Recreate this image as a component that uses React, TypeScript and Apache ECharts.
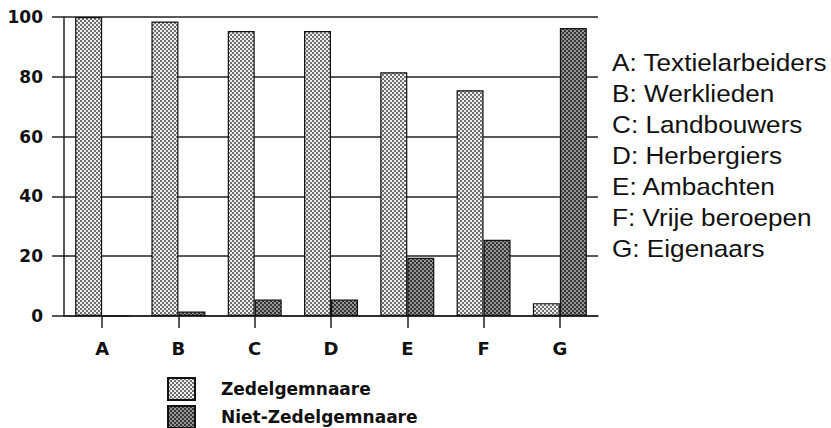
import React, { useEffect, useRef } from "react";
import * as echarts from "echarts";

const categories = ["A", "B", "C", "D", "E", "F", "G"];
const occupations = [
  "Textielarbeiders",
  "Werklieden",
  "Landbouwers",
  "Herbergiers",
  "Ambachten",
  "Vrije beroepen",
  "Eigenaars",
];
const zedelgem = [100, 98.5, 95.3, 95.3, 81.5, 75.5, 4.3];
const nietZedelgem = [0, 1.5, 5.5, 5.5, 19.5, 25.5, 96.3];
const yTicks = [0, 20, 40, 60, 80, 100];
const seriesNames = ["Zedelgemnaare", "Niet-Zedelgemnaare"];

function makePattern(bg: string, dot: string) {
  const c = document.createElement("canvas");
  c.width = 4;
  c.height = 4;
  const ctx = c.getContext("2d")!;
  ctx.fillStyle = bg;
  ctx.fillRect(0, 0, 4, 4);
  ctx.fillStyle = dot;
  ctx.fillRect(0, 0, 2, 2);
  ctx.fillRect(2, 2, 2, 2);
  return c;
}

export default function App() {
  const ref = useRef<HTMLDivElement>(null);
  useEffect(() => {
    if (!ref.current) return;
    const chart = echarts.init(ref.current, undefined, { renderer: "svg" });
    const light = makePattern("#eeeeee", "#707070");
    const dark = makePattern("#363636", "#959595");
    const lineColor = "#222";
    const sideTexts = categories.map((c, i) => ({
      type: "text",
      x: 612,
      y: 62 + i * 31,
      scaleX: 1.09,
      style: {
        text: `${c}: ${occupations[i]}`,
        font: "24px 'Liberation Sans', Arial, sans-serif",
        fill: "#111",
        verticalAlign: "middle",
        align: "left",
      },
    }));
    chart.setOption({
      animation: false,
      backgroundColor: "#fff",
      grid: { left: 64, right: 233, top: 17, bottom: 112 },
      legend: {
        orient: "vertical",
        left: 167,
        top: 377,
        height: 120,
        padding: 0,
        itemGap: 4,
        itemWidth: 27,
        itemHeight: 22,
        icon: "rect",
        data: seriesNames,
        textStyle: {
          fontFamily: "'DejaVu Sans', sans-serif",
          fontWeight: "bold",
          fontSize: 17,
          color: "#111",
          padding: [0, 0, 0, 21],
        },
      },
      xAxis: {
        type: "category",
        data: categories,
        axisLine: { show: true, lineStyle: { color: lineColor, width: 1.5 } },
        axisTick: { show: true, alignWithLabel: true, length: 12, lineStyle: { color: lineColor, width: 1.5 } },
        axisLabel: {
          margin: 23,
          fontFamily: "'DejaVu Sans', sans-serif",
          fontWeight: "bold",
          fontSize: 18,
          color: "#111",
        },
      },
      yAxis: {
        type: "value",
        min: yTicks[0],
        max: yTicks[yTicks.length - 1],
        interval: 20,
        axisLine: { show: true, lineStyle: { color: lineColor, width: 1.5 } },
        axisTick: { show: true, length: 12, lineStyle: { color: lineColor, width: 1.5 } },
        splitLine: { show: true, lineStyle: { color: lineColor, width: 1.5 } },
        axisLabel: {
          margin: 21,
          fontFamily: "'DejaVu Sans', sans-serif",
          fontWeight: "bold",
          fontSize: 17,
          color: "#111",
        },
      },
      series: [
        {
          name: seriesNames[0],
          type: "bar",
          data: zedelgem,
          barWidth: 27,
          barGap: "0%",
          itemStyle: {
            color: { image: light, repeat: "repeat" },
            borderColor: "#111",
            borderWidth: 1.2,
          },
        },
        {
          name: seriesNames[1],
          type: "bar",
          data: nietZedelgem,
          barWidth: 27,
          barGap: "0%",
          itemStyle: {
            color: { image: dark, repeat: "repeat" },
            borderColor: "#111",
            borderWidth: 1.2,
          },
        },
      ],
      graphic: sideTexts,
    });
    return () => chart.dispose();
  }, []);
  return <div ref={ref} style={{ width: 831, height: 428, position: "absolute", left: 0, top: 0 }} />;
}
